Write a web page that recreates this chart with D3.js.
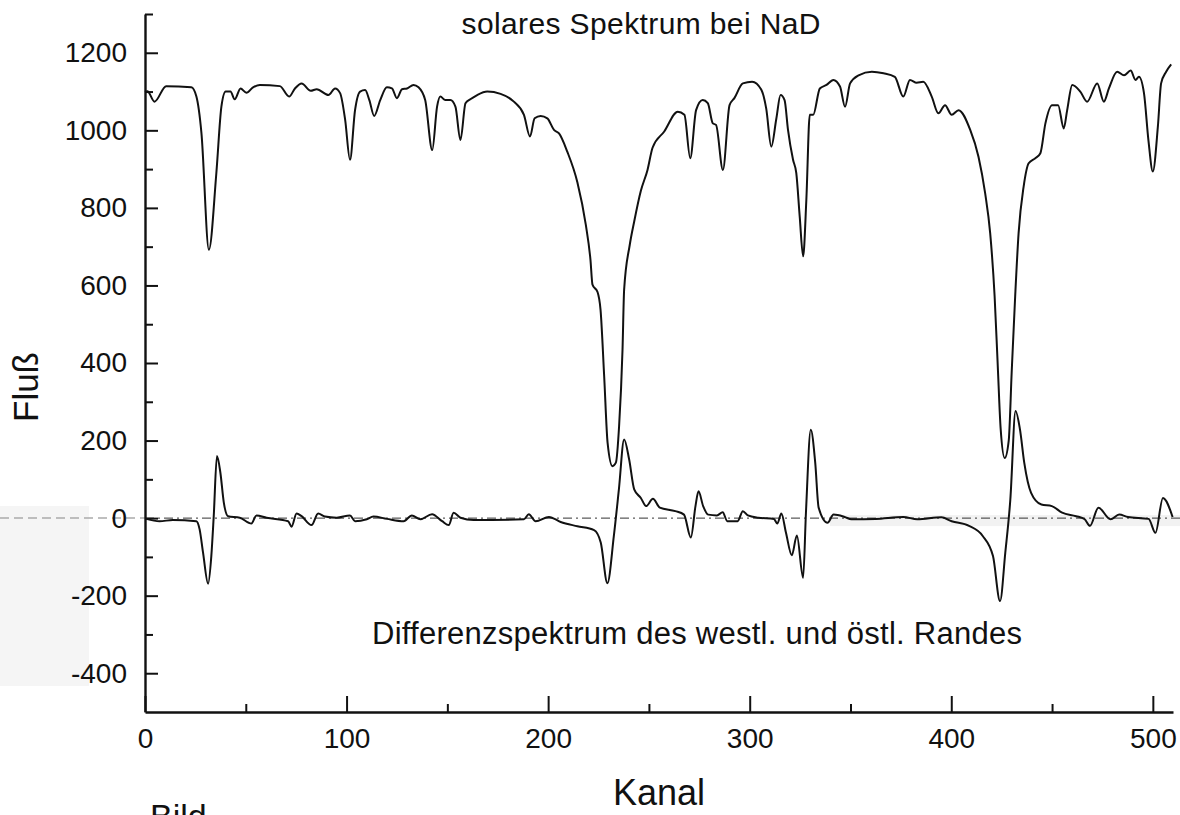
<!DOCTYPE html>
<html>
<head>
<meta charset="utf-8">
<script src="https://cdn.jsdelivr.net/npm/d3@7"></script>
<style>
  body { margin: 0; background: #fff; }
  text { font-family: "Liberation Sans", Arial, sans-serif; fill: #111; }
</style>
</head>
<body>
<svg id="chart" width="1180" height="815"></svg>
<script>
// solar spectrum around NaD (upper curve)
const solarKanal = [0, 1.2, 4.7, 10.5, 23, 25.5, 28, 31.7, 35.4, 37.9, 40, 42.4, 44.5, 47.4, 50.3, 53.6, 57,
  66.9, 71.5, 74.4, 77.7, 82.2, 85.2, 91, 94.3, 96.8, 99.3, 101.7, 104.2, 106.7, 109.2, 111.3, 113.7, 116.7,
  120, 122.5, 125, 127.5, 130, 133.2, 135.7, 139, 142.5, 144.9, 146.5, 149, 151.5, 154, 156.5, 159, 161.4,
  164.8, 169.8, 176.4, 183, 188, 191, 193.3, 196.3, 199.6, 202.9, 205.4, 209.5, 214.5, 218.7, 221, 222,
  224.5, 226, 227.8, 229.5, 231.9, 233.6, 235.2, 236.9, 237.7, 240.5, 242.7, 246, 249.3, 251.8, 257.6,
  264.3, 267.6, 270.5, 273.4, 276.7, 279.2, 281.7, 283.3, 286.7, 290, 292.4, 296.6, 301.2, 305.7, 308.2,
  310.7, 313.2, 315.3, 317.3, 319, 321.5, 323.1, 324.8, 326.5, 328.1, 329.8, 331.5, 334.8, 338.1, 341.5,
  344.8, 347.3, 349.8, 354, 360.6, 366.4, 372, 376.2, 379.5, 382.8, 386.1, 390.3, 393.6, 396.9, 400.2,
  403.6, 409.4, 413.5, 416.8, 419.3, 421.5, 423, 424.5, 426.5, 428.5, 430, 431.7, 433.4, 435.9, 438.4,
  441.7, 444.2, 446.7, 450, 453, 455.8, 457.5, 460, 464, 467.4, 472.4, 475.7, 478.2, 482.3, 485.7, 489,
  491.4, 493.1, 495.6, 497.8, 500, 502.5, 504.1, 506.6, 509.1];
const solarFluss = [1099, 1101, 1074, 1114, 1111, 1087, 993, 692, 890, 1061, 1100, 1100, 1080, 1108, 1097, 1111, 1117,
  1114, 1087, 1108, 1121, 1102, 1106, 1091, 1108, 1096, 1027, 924, 1052, 1100, 1104, 1078, 1037, 1078,
  1111, 1108, 1083, 1106, 1108, 1117, 1111, 1078, 949, 1061, 1087, 1078, 1078, 1061, 975, 1070, 1080,
  1091, 1100, 1094, 1074, 1040, 984, 1031, 1037, 1031, 1001, 992, 945, 866, 756, 666, 602,
  583, 537, 366, 194, 134, 143, 237, 434, 589, 705, 765, 844, 898, 955, 997,
  1048, 1040, 928, 1052, 1078, 1070, 1018, 1014, 898, 1065, 1083, 1121, 1125, 1105, 1056,
  958, 1030, 1091, 1078, 1001, 924, 890, 778, 675, 821, 1040, 1040, 1108, 1117, 1130,
  1113, 1061, 1121, 1142, 1151, 1147, 1138, 1087, 1130, 1123, 1125, 1087, 1044, 1065, 1040,
  1052, 1001, 932, 838, 735, 572, 400, 230, 155, 200, 380, 572, 735, 855, 915,
  928, 941, 1018, 1065, 1065, 1005, 1052, 1117, 1100, 1074, 1121, 1074, 1108, 1151, 1142, 1154,
  1130, 1138, 1096, 975, 894, 1010, 1121, 1151, 1170];

// difference spectrum west minus east limb (lower curve)
const diffKanal = [0.6, 7.2, 13.8, 25.5, 27.1, 28.8, 31.3, 32.9, 34.1, 35.7, 37.4, 39.1, 41.2, 47, 52.8, 55.3,
  60.3, 71, 72.7, 75.2, 77.7, 82.6, 85.9, 89.3, 95.1, 101.7, 104.2, 110, 113.3, 120, 128.3, 132.4, 136.6,
  142.4, 147.4, 150.7, 153.1, 156.5, 163, 188, 190.4, 193.8, 200.4, 206.2, 214.5, 222.8, 226.1, 229.4,
  232.6, 235.1, 237.7, 240.2, 242.7, 246, 248.6, 252, 255.4, 263.1, 267.4, 270.8, 273.1, 274.6, 276.9,
  279.4, 283.7, 286.6, 288.9, 294, 296.6, 299.1, 304.3, 312, 313.7, 315.7, 318, 320.9, 323.4, 326.5,
  327.9, 330.3, 332.5, 334.2, 338.6, 341.6, 347.1, 350.5, 362.5, 376.2, 383.1, 395.1, 400.2, 408.8,
  415.6, 420.7, 424.2, 426.8, 429.3, 431.9, 434.1, 436.2, 439.6, 444.7, 449.9, 455, 461.9, 466.2,
  468.8, 473, 479, 483.3, 487.6, 497.9, 501.3, 505, 509.8];
const diffFluss = [-2, -8, -5, -8, -29, -89, -169, -98, 5, 160, 117, 40, 5, 1, -14, 7,
  1, -8, -22, 12, 5, -18, 12, 4, 1, 7, -8, -3, 4, -2, -8, 7, -3,
  10, -8, -18, 14, 1, -5, -3, 10, -8, 3, -10, -21, -31, -63, -168,
  -46, 74, 203, 151, 74, 52, 31, 50, 27, 18, 9, -50, 31, 69, 31,
  9, 7, 15, -8, -8, 18, 7, 1, -2, -14, 12, -38, -96, -45, -154,
  14, 228, 143, 27, -12, 9, 3, -3, -2, 3, -3, 2, -8, -20,
  -46, -98, -214, -89, 48, 276, 228, 143, 65, 35, 31, 14, 5, -3,
  -20, 27, -3, 9, 3, -2, -38, 52, 3];

const yMajor = [-400, -200, 0, 200, 400, 600, 800, 1000, 1200];
const yMinor = [-300, -100, 100, 300, 500, 700, 900, 1100, 1300];
const xMajor = [0, 100, 200, 300, 400, 500];
const xMinor = [50, 150, 250, 350, 450];

const svg = d3.select("#chart");

const x = d3.scaleLinear().domain([0, 510]).range([145, 1173]);
const y = d3.scaleLinear().domain([-500, 1300]).range([712, 14]);

// scan artefacts: grey patch at left, faint band at right
svg.append("rect").attr("x", 0).attr("y", 506).attr("width", 89).attr("height", 180).attr("fill", "#f5f5f5");
svg.append("rect").attr("x", 830).attr("y", y(0) - 3).attr("width", 350).attr("height", 11)
  .attr("fill", "#f2f2f2");

// zero line
svg.append("line")
  .attr("x1", 0).attr("x2", 145).attr("y1", y(0)).attr("y2", y(0))
  .attr("stroke", "#aaa").attr("stroke-width", 1.5).attr("stroke-dasharray", "9,5");
svg.append("line")
  .attr("x1", 145).attr("x2", 1180).attr("y1", y(0)).attr("y2", y(0))
  .attr("stroke", "#333").attr("stroke-width", 1).attr("stroke-dasharray", "9,4,2,4");

// Axes
svg.append("g")
  .attr("transform", "translate(145,0)")
  .call(d3.axisLeft(y).tickValues(yMajor).tickSize(-13).tickSizeOuter(0).tickPadding(18)
    .tickFormat(d => String(d)));
svg.append("g")
  .attr("transform", "translate(145,0)")
  .call(d3.axisLeft(y).tickValues(yMinor).tickSize(-8).tickSizeOuter(0).tickFormat(""))
  .call(g => g.select(".domain").remove());

svg.append("g")
  .attr("transform", "translate(0,712)")
  .call(d3.axisBottom(x).tickValues(xMajor).tickSize(-16).tickSizeOuter(0).tickPadding(16)
    .tickFormat(d => String(d)));
svg.append("g")
  .attr("transform", "translate(0,712)")
  .call(d3.axisBottom(x).tickValues(xMinor).tickSize(-8).tickSizeOuter(0).tickFormat(""))
  .call(g => g.select(".domain").remove());

svg.selectAll(".domain").attr("stroke", "#111").attr("stroke-width", 2.4);
svg.selectAll(".tick line").attr("stroke", "#111").attr("stroke-width", 2);
svg.selectAll(".tick text")
  .attr("font-family", "'Liberation Sans', Arial, sans-serif")
  .attr("font-size", 28)
  .attr("fill", "#111");

// Curves
const line = d3.line()
  .x(d => x(d[0]))
  .y(d => y(d[1]))
  .curve(d3.curveMonotoneX);

svg.append("path")
  .datum(d3.zip(solarKanal, solarFluss))
  .attr("fill", "none")
  .attr("stroke", "#111")
  .attr("stroke-width", 2)
  .attr("stroke-linejoin", "round")
  .attr("d", line);

svg.append("path")
  .datum(d3.zip(diffKanal, diffFluss))
  .attr("fill", "none")
  .attr("stroke", "#111")
  .attr("stroke-width", 2)
  .attr("stroke-linejoin", "round")
  .attr("d", line);

// Labels
svg.append("text")
  .attr("x", 641).attr("y", 34)
  .attr("text-anchor", "middle")
  .attr("font-size", 30)
  .attr("textLength", 359).attr("lengthAdjust", "spacing")
  .text("solares Spektrum bei NaD");

svg.append("text")
  .attr("x", 697).attr("y", 644)
  .attr("text-anchor", "middle")
  .attr("font-size", 31)
  .attr("textLength", 650).attr("lengthAdjust", "spacing")
  .text("Differenzspektrum des westl. und östl. Randes");

svg.append("text")
  .attr("x", 659).attr("y", 805)
  .attr("text-anchor", "middle")
  .attr("font-size", 36)
  .text("Kanal");

svg.append("text")
  .attr("transform", "translate(38,387) rotate(-90)")
  .attr("text-anchor", "middle")
  .attr("font-size", 35)
  .text("Fluß");

svg.append("text")
  .attr("x", 150).attr("y", 828)
  .attr("font-size", 34)
  .attr("fill", "#333")
  .text("Bild");
</script>
</body>
</html>
